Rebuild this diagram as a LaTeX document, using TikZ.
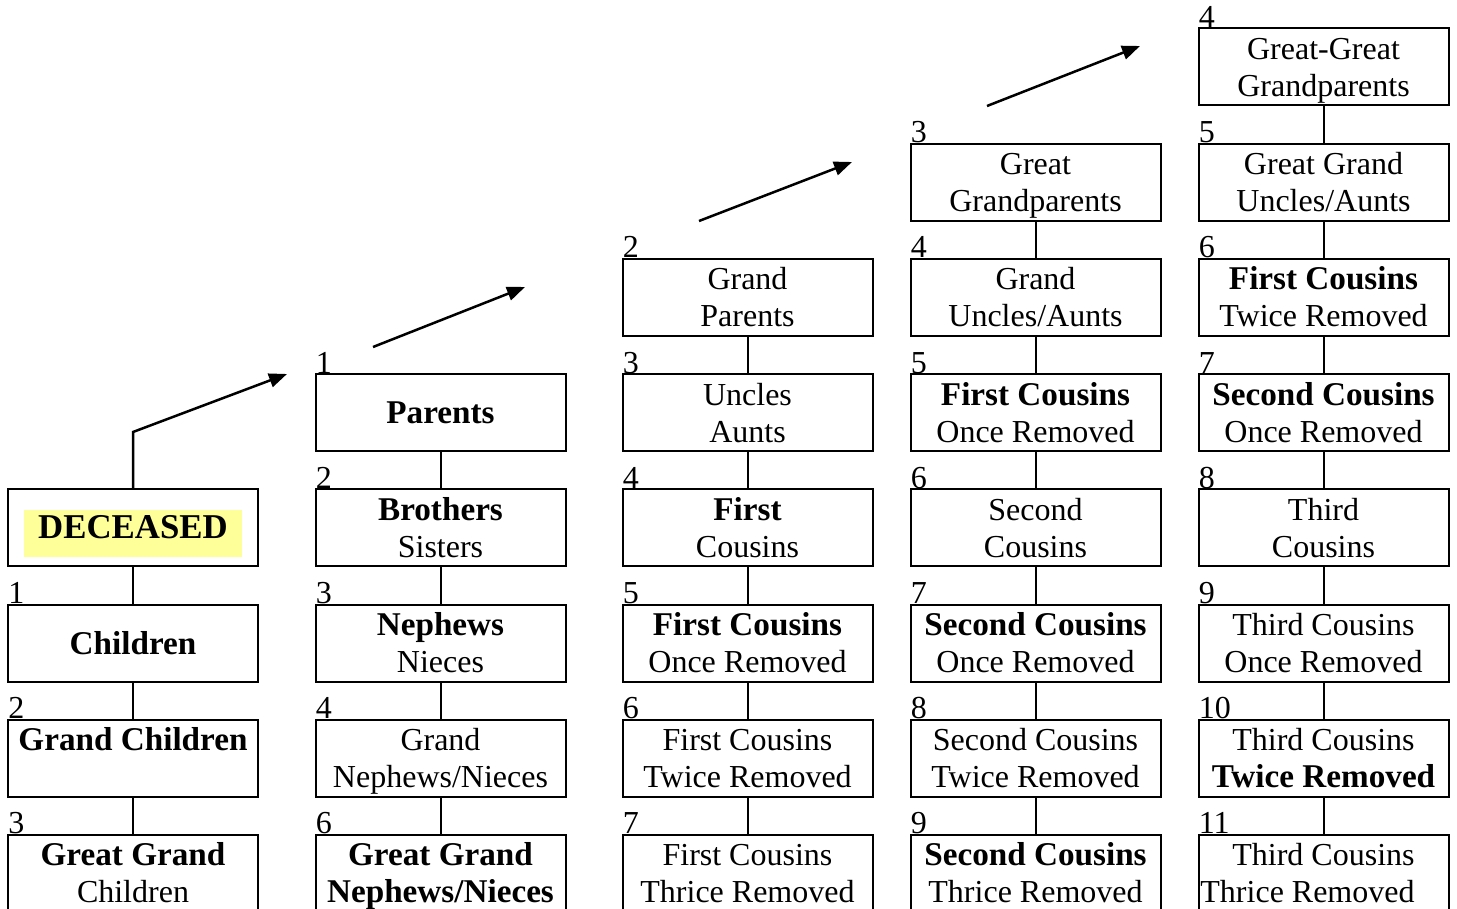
\documentclass[tikz,border=0pt]{standalone}
\usepackage{fontspec}
\setmainfont{Liberation Serif}
\usetikzlibrary{arrows.meta}
\definecolor{hl}{RGB}{255,255,153}
\newcommand\ls{\rule[-3.75pt]{0pt}{18.5pt}}
\newcommand\bt[1]{{\fontsize{16.6}{18.5}\selectfont\bfseries #1}}
\tikzset{
  box/.style={draw, line width=1pt, minimum width=125pt, minimum height=38.5pt,
    inner sep=0pt, align=center, font=\fontsize{16}{18.5}\selectfont},
  num/.style={anchor=base west, inner sep=0pt, xshift=0.5pt, font=\fontsize{16}{18.5}\selectfont},
  link/.style={line width=1pt},
  arrowline/.style={line width=1.25pt, -{Triangle[length=9pt,width=7pt]}}
}
\begin{document}
\begin{tikzpicture}[x=0.5pt,y=-0.5pt]
\useasboundingbox (0,0) rectangle (1457,909);
\clip (0,0) rectangle (1457,909);
% column 1
\node[box] (c1r4) at (133,527.8) {\ls\smash{\setlength{\fboxsep}{0pt}\colorbox{hl}{\rule[-9.15pt]{0pt}{23.5pt}\hspace{7.2pt}\fontsize{17.4}{18.5}\selectfont\bfseries DECEASED\hspace{7.2pt}}}};
\node[box] (c1r5) at (133,643) {\ls\bt{Children}};
\node[box] (c1r6) at (133,758.2) {\ls\bt{Grand Children}\\\ls};
\node[box] (c1r7) at (133,873.4) {\ls\bt{Great Grand}\\\ls Children};
% column 2
\node[box] (c2r3) at (440.5,412.6) {\ls\bt{Parents}};
\node[box] (c2r4) at (440.5,527.8) {\ls\bt{Brothers}\\\ls Sisters};
\node[box] (c2r5) at (440.5,643) {\ls\bt{Nephews}\\\ls Nieces};
\node[box] (c2r6) at (440.5,758.2) {\ls Grand\\\ls Nephews/Nieces};
\node[box] (c2r7) at (440.5,873.4) {\ls\bt{Great Grand}\\\ls\bt{Nephews/Nieces}};
% column 3
\node[box] (c3r2) at (747.5,297.4) {\ls Grand\\\ls Parents};
\node[box] (c3r3) at (747.5,412.6) {\ls Uncles\\\ls Aunts};
\node[box] (c3r4) at (747.5,527.8) {\ls\bt{First}\\\ls Cousins};
\node[box] (c3r5) at (747.5,643) {\ls\bt{First Cousins}\\\ls Once Removed};
\node[box] (c3r6) at (747.5,758.2) {\ls First Cousins\\\ls Twice Removed};
\node[box] (c3r7) at (747.5,873.4) {\ls First Cousins\\\ls Thrice Removed};
% column 4
\node[box] (c4r1) at (1035.5,182.2) {\ls Great\\\ls Grandparents};
\node[box] (c4r2) at (1035.5,297.4) {\ls Grand\\\ls Uncles/Aunts};
\node[box] (c4r3) at (1035.5,412.6) {\ls\bt{First Cousins}\\\ls Once Removed};
\node[box] (c4r4) at (1035.5,527.8) {\ls Second\\\ls Cousins};
\node[box] (c4r5) at (1035.5,643) {\ls\bt{Second Cousins}\\\ls Once Removed};
\node[box] (c4r6) at (1035.5,758.2) {\ls Second Cousins\\\ls Twice Removed};
\node[box] (c4r7) at (1035.5,873.4) {\ls\bt{Second Cousins}\\\ls Thrice Removed};
% column 5
\node[box] (c5r0) at (1323.5,67) {\ls Great-Great\\\ls Grandparents};
\node[box] (c5r1) at (1323.5,182.2) {\ls Great Grand\\\ls Uncles/Aunts};
\node[box] (c5r2) at (1323.5,297.4) {\ls\bt{First Cousins}\\\ls Twice Removed};
\node[box] (c5r3) at (1323.5,412.6) {\ls\bt{Second Cousins}\\\ls Once Removed};
\node[box] (c5r4) at (1323.5,527.8) {\ls Third\\\ls Cousins};
\node[box] (c5r5) at (1323.5,643) {\ls Third Cousins\\\ls Once Removed};
\node[box] (c5r6) at (1323.5,758.2) {\ls Third Cousins\\\ls\bt{Twice Removed}};
\node[box] (c5r7) at (1323.5,873.4) {\ls Third Cousins\\\ls Thrice Removed\hspace*{16pt}};
% numbers
\node[num] (n1r5) at (c1r5.north west) {1};
\node[num] (n1r6) at (c1r6.north west) {2};
\node[num] (n1r7) at (c1r7.north west) {3};
\node[num] (n2r3) at (c2r3.north west) {1};
\node[num] (n2r4) at (c2r4.north west) {2};
\node[num] (n2r5) at (c2r5.north west) {3};
\node[num] (n2r6) at (c2r6.north west) {4};
\node[num] (n2r7) at (c2r7.north west) {6};
\node[num] (n3r2) at (c3r2.north west) {2};
\node[num] (n3r3) at (c3r3.north west) {3};
\node[num] (n3r4) at (c3r4.north west) {4};
\node[num] (n3r5) at (c3r5.north west) {5};
\node[num] (n3r6) at (c3r6.north west) {6};
\node[num] (n3r7) at (c3r7.north west) {7};
\node[num] (n4r1) at (c4r1.north west) {3};
\node[num] (n4r2) at (c4r2.north west) {4};
\node[num] (n4r3) at (c4r3.north west) {5};
\node[num] (n4r4) at (c4r4.north west) {6};
\node[num] (n4r5) at (c4r5.north west) {7};
\node[num] (n4r6) at (c4r6.north west) {8};
\node[num] (n4r7) at (c4r7.north west) {9};
\node[num] (n5r0) at (c5r0.north west) {4};
\node[num] (n5r1) at (c5r1.north west) {5};
\node[num] (n5r2) at (c5r2.north west) {6};
\node[num] (n5r3) at (c5r3.north west) {7};
\node[num] (n5r4) at (c5r4.north west) {8};
\node[num] (n5r5) at (c5r5.north west) {9};
\node[num] (n5r6) at (c5r6.north west) {10};
\node[num] (n5r7) at (c5r7.north west) {11};
% vertical links
\foreach \a/\b in {c1r4/c1r5,c1r5/c1r6,c1r6/c1r7,
  c2r3/c2r4,c2r4/c2r5,c2r5/c2r6,c2r6/c2r7,
  c3r2/c3r3,c3r3/c3r4,c3r4/c3r5,c3r5/c3r6,c3r6/c3r7,
  c4r1/c4r2,c4r2/c4r3,c4r3/c4r4,c4r4/c4r5,c4r5/c4r6,c4r6/c4r7,
  c5r0/c5r1,c5r1/c5r2,c5r2/c5r3,c5r3/c5r4,c5r4/c5r5,c5r5/c5r6,c5r6/c5r7}
  \draw[link] (\a.south) -- (\b.north);
% arrows
\coordinate (a1bend) at (133,432);
\coordinate (a1end) at (287,374);
\coordinate (a2start) at (373,347);
\coordinate (a2end) at (525,287);
\coordinate (a3start) at (699,221);
\coordinate (a3end) at (852,162);
\coordinate (a4start) at (987,106);
\coordinate (a4end) at (1140,46);
\draw[arrowline] (c1r4.north) -- (a1bend) -- (a1end);
\draw[arrowline] (a2start) -- (a2end);
\draw[arrowline] (a3start) -- (a3end);
\draw[arrowline] (a4start) -- (a4end);
\end{tikzpicture}
\end{document}
